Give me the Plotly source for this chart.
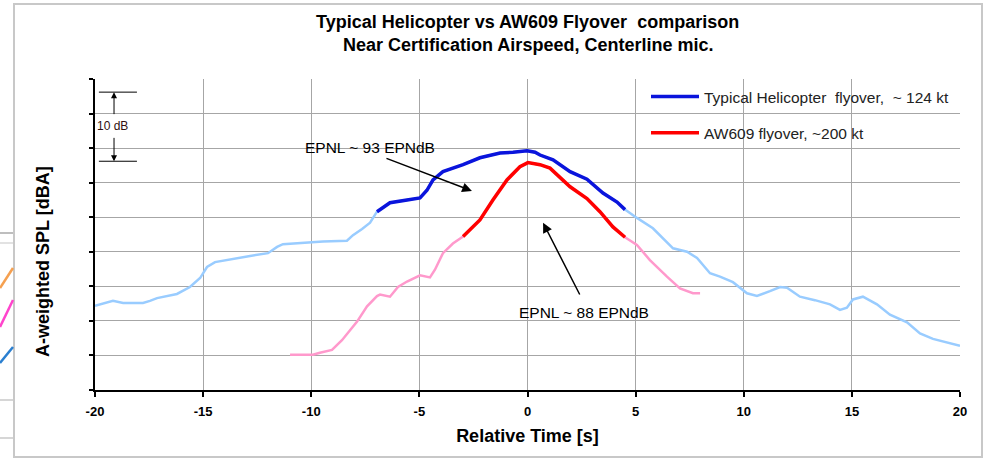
import plotly.graph_objects as go

# ---------------- data ----------------
heli_t = [-20.00, -19.17, -18.70, -17.78, -17.46, -17.13, -16.21, -15.61, -15.14, -14.82,
          -14.45, -13.62, -12.83, -12.00, -11.58, -11.31, -10.38, -9.46, -8.35, -8.07,
          -7.65, -7.28, -6.96, -6.36, -5.57, -4.97, -4.65, -4.37, -3.91, -2.98,
          -2.20, -1.27, -0.67, -0.02, 0.35, 0.58, 1.18, 1.97, 2.75, 3.49,
          4.14, 4.51, 5.06, 5.80, 6.73, 7.38, 7.84, 8.44, 8.90, 9.50,
          10.15, 10.61, 11.21, 11.68, 12.00, 12.60, 13.29, 13.99, 14.45, 14.77,
          15.05, 15.51, 16.16, 16.76, 17.55, 18.15, 18.75, 20.00]
heli_spl = [62.2, 62.9, 62.6, 62.6, 62.9, 63.3, 63.9, 64.9, 66.2, 67.8,
            68.5, 69.0, 69.4, 69.8, 70.7, 71.1, 71.3, 71.5, 71.6, 72.4,
            73.3, 74.2, 75.8, 77.1, 77.5, 77.8, 78.9, 80.4, 81.6, 82.6,
            83.6, 84.3, 84.4, 84.6, 84.4, 84.0, 83.3, 81.6, 80.5, 78.5,
            77.2, 76.1, 74.9, 73.4, 70.5, 70.0, 69.1, 66.9, 66.4, 65.6,
            64.0, 63.6, 64.3, 64.9, 64.8, 63.5, 63.0, 62.4, 61.6, 61.9,
            63.1, 63.5, 62.4, 60.9, 59.8, 58.2, 57.4, 56.4]

aw_t = [-10.98, -9.92, -9.60, -9.04, -8.58, -7.88, -7.42, -6.96, -6.82, -6.36,
        -5.99, -5.57, -4.97, -4.51, -4.28, -3.91, -3.45, -2.98, -2.20, -1.60,
        -0.95, -0.35, 0.02, 0.58, 1.04, 1.97, 2.75, 3.35, 3.95, 4.51,
        5.06, 5.66, 6.45, 7.05, 7.65, 7.98]
aw_spl = [55.1, 55.1, 55.4, 55.8, 57.2, 59.9, 62.1, 63.6, 63.8, 63.5,
          64.9, 65.7, 66.6, 66.3, 67.4, 69.8, 71.2, 72.2, 74.6, 77.5,
          80.4, 82.3, 82.9, 82.6, 82.1, 79.4, 77.7, 75.8, 73.6, 72.1,
          71.0, 68.8, 66.4, 64.7, 64.0, 64.0]

# 10 dB-down windows (highlighted portions)
heli_window = (-7.0, 4.55)
aw_window = (-3.0, 4.55)

x_ticks = [-20, -15, -10, -5, 0, 5, 10, 15, 20]
x_tick_labels = ["-20", "-15", "-10", "-5", "0", "5", "10", "15", "20"]

heli_name = "Typical Helicopter  flyover,  ~ 124 kt"
aw_name = "AW609 flyover, ~200 kt"


def window(t, v, w):
    pairs = [(a, b) for a, b in zip(t, v) if w[0] <= a <= w[1]]
    return [p[0] for p in pairs], [p[1] for p in pairs]


FONT = "Liberation Sans, Arial, sans-serif"
LIGHT_BLUE = "#99CCFF"
DARK_BLUE = "#0A14DC"
PINK = "#FF99CC"
RED = "#FF0000"

fig = go.Figure()
fig.add_trace(go.Scatter(x=heli_t, y=heli_spl, mode="lines",
                         line=dict(color=LIGHT_BLUE, width=2.5), showlegend=False,
                         hoverinfo="skip"))
fig.add_trace(go.Scatter(x=aw_t, y=aw_spl, mode="lines",
                         line=dict(color=PINK, width=2.5), showlegend=False,
                         hoverinfo="skip"))
hx, hy = window(heli_t, heli_spl, heli_window)
ax_, ay_ = window(aw_t, aw_spl, aw_window)
fig.add_trace(go.Scatter(x=hx, y=hy, mode="lines", name=heli_name, legendgroup="h",
                         line=dict(color=DARK_BLUE, width=3.5)))
fig.add_trace(go.Scatter(x=ax_, y=ay_, mode="lines", name=aw_name, legendgroup="a",
                         line=dict(color=RED, width=3.5)))

L, R, T, B = 95, 28, 79, 69
W, H = 988, 459
PW, PH = W - L - R, H - T - B


def px(xp):
    return (xp - L) / PW


def py(yp):
    return (H - B - yp) / PH


shapes = []
# outer chart border
shapes.append(dict(type="rect", xref="paper", yref="paper", x0=px(14), x1=px(982),
                   y0=py(457), y1=py(4), line=dict(color="#C8C8C8", width=2)))
# fragments of a neighbouring chart at the left edge
for yy, col in [(233, "#A8A8A8"), (243, "#D8D8D8"), (400, "#C8C8C8"), (438, "#C8C8C8")]:
    shapes.append(dict(type="line", xref="paper", yref="paper", x0=px(0), x1=px(13),
                       y0=py(yy), y1=py(yy), line=dict(color=col, width=1.5)))
for (y0, y1, col) in [(288, 268, "#F5A050"), (327, 300, "#FF44CC"), (363, 347, "#2A7FD0")]:
    shapes.append(dict(type="line", xref="paper", yref="paper", x0=px(0), x1=px(13),
                       y0=py(y0), y1=py(y1), line=dict(color=col, width=2.5)))
# 10 dB bracket
for yv in (93.1, 83.1):
    shapes.append(dict(type="line", xref="x", yref="y", x0=-19.82, x1=-18.06,
                       y0=yv, y1=yv, line=dict(color="black", width=1)))

annotations = [
    dict(text="<b>Typical Helicopter vs AW609 Flyover  comparison</b>", xref="paper", yref="paper",
         x=0.5, y=py(22), yanchor="middle", showarrow=False,
         font=dict(family=FONT, size=18, color="black")),
    dict(text="<b>Near Certification Airspeed, Centerline mic.</b>", xref="paper", yref="paper",
         x=0.5, y=py(45), yanchor="middle", showarrow=False,
         font=dict(family=FONT, size=18, color="black")),
    dict(text="<b>A-weighted SPL [dBA]</b>", xref="paper", yref="paper", textangle=-90,
         x=px(43), y=py(262), xanchor="center", yanchor="middle", showarrow=False,
         font=dict(family=FONT, size=18, color="black")),
    # 10 dB marker
    dict(x=-19.12, y=93.1, ax=-19.12, ay=89.7, xref="x", yref="y", axref="x", ayref="y",
         text="", showarrow=True, arrowhead=2, arrowsize=1.2, arrowwidth=1, arrowcolor="black"),
    dict(x=-19.12, y=83.1, ax=-19.12, ay=86.7, xref="x", yref="y", axref="x", ayref="y",
         text="", showarrow=True, arrowhead=2, arrowsize=1.2, arrowwidth=1, arrowcolor="black"),
    dict(x=-19.2, y=88.2, xref="x", yref="y", text="10 dB", showarrow=False,
         font=dict(family=FONT, size=12, color="#301010")),
    # EPNL labels
    dict(x=-7.3, y=85.1, xref="x", yref="y", text="EPNL ~ 93 EPNdB", showarrow=False,
         font=dict(family=FONT, size=15.5, color="black")),
    dict(x=-2.57, y=78.8, ax=-6.59, ay=83.6, xref="x", yref="y", axref="x", ayref="y",
         text="", showarrow=True, arrowhead=2, arrowsize=1.3, arrowwidth=1.5, arrowcolor="black"),
    dict(x=2.6, y=61.2, xref="x", yref="y", text="EPNL ~ 88 EPNdB", showarrow=False,
         font=dict(family=FONT, size=15.5, color="black")),
    dict(x=0.72, y=74.2, ax=2.45, ay=63.6, xref="x", yref="y", axref="x", ayref="y",
         text="", showarrow=True, arrowhead=2, arrowsize=1.3, arrowwidth=1.5, arrowcolor="black"),
]

fig.update_layout(
    width=W, height=H,
    margin=dict(l=L, r=R, t=T, b=B),
    paper_bgcolor="white", plot_bgcolor="white",
    font=dict(family=FONT, color="black"),
    shapes=shapes, annotations=annotations,
    legend=dict(x=px(646), y=py(80), xanchor="left", yanchor="top",
                bgcolor="rgba(0,0,0,0)", tracegroupgap=13, itemwidth=48,
                font=dict(family=FONT, size=15.5, color="#222222")),
    xaxis=dict(range=[-20, 20], tickvals=x_ticks, ticktext=[f"<b>{t}</b>" for t in x_tick_labels],
               showgrid=True, gridcolor="#A6A6A6", gridwidth=1, zeroline=False,
               showline=True, linecolor="black", linewidth=2,
               ticks="outside", ticklen=5, tickcolor="black", tickwidth=1.5,
               ticklabelstandoff=3,
               tickfont=dict(family=FONT, size=13, color="black"),
               title=dict(text="<b>Relative Time [s]</b>", standoff=12,
                          font=dict(family=FONT, size=18, color="black"))),
    yaxis=dict(range=[50, 95], dtick=5, tick0=50, showticklabels=False,
               showgrid=True, gridcolor="#A6A6A6", gridwidth=1, zeroline=False,
               showline=True, linecolor="black", linewidth=2,
               ticks="outside", ticklen=4, tickcolor="black", tickwidth=1.5),
)

fig.write_html("out.html")
